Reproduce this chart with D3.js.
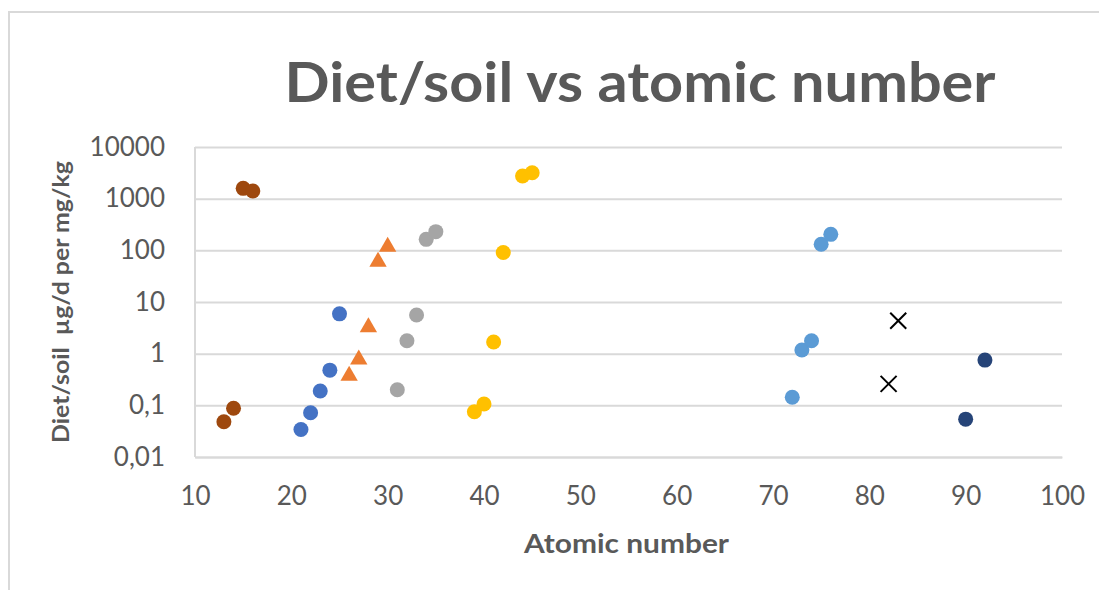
<!DOCTYPE html>
<html>
<head>
<meta charset="utf-8">
<script src="https://cdn.jsdelivr.net/npm/d3@7"></script>
<style>
  html, body { margin: 0; padding: 0; background: #ffffff; }
  svg { display: block; }
  text { font-family: Lato, "Open Sans", sans-serif; fill: #595959; }
</style>
</head>
<body>
<svg id="chart" width="1099" height="590"></svg>
<script>
// Axis ticks
const xTickValues = [10, 20, 30, 40, 50, 60, 70, 80, 90, 100];
const yTickValues = [0.01, 0.1, 1, 10, 100, 1000, 10000];
const yTickLabels = ["0,01", "0,1", "1", "10", "100", "1000", "10000"];

// Element groups: atomic number and diet/soil ratio
const groupAZ = [13, 14, 15, 16];
const groupAV = [0.048, 0.088, 1585, 1407];
const groupBZ = [21, 22, 23, 24, 25];
const groupBV = [0.034, 0.072, 0.19, 0.48, 5.9];
const groupCZ = [26, 27, 28, 29, 30];
const groupCV = [0.39, 0.81, 3.4, 63, 123];
const groupDZ = [31, 32, 33, 34, 35];
const groupDV = [0.2, 1.78, 5.6, 163, 230];
const groupEZ = [39, 40, 41, 42, 44, 45];
const groupEV = [0.075, 0.106, 1.68, 91, 2740, 3180];
const groupFZ = [72, 73, 74, 75, 76];
const groupFV = [0.143, 1.18, 1.78, 131, 204];
const groupGZ = [82, 83];
const groupGV = [0.26, 4.35];
const groupHZ = [90, 92];
const groupHV = [0.054, 0.75];

const series = [
  { z: groupAZ, v: groupAV, shape: "circle", color: "#9e480e" },
  { z: groupBZ, v: groupBV, shape: "circle", color: "#4472c4" },
  { z: groupCZ, v: groupCV, shape: "triangle", color: "#ed7d31" },
  { z: groupDZ, v: groupDV, shape: "circle", color: "#a5a5a5" },
  { z: groupEZ, v: groupEV, shape: "circle", color: "#ffc000" },
  { z: groupFZ, v: groupFV, shape: "circle", color: "#5b9bd5" },
  { z: groupGZ, v: groupGV, shape: "cross", color: "#000000" },
  { z: groupHZ, v: groupHV, shape: "circle", color: "#264478" }
];

const svg = d3.select("#chart");
const plot = { left: 195, right: 1062, top: 147, bottom: 457 };

// Outer chart frame
svg.append("rect")
  .attr("x", 9).attr("y", 12)
  .attr("width", 1200).attr("height", 700)
  .attr("fill", "none").attr("stroke", "#d9d9d9").attr("stroke-width", 2);

const x = d3.scaleLinear().domain([10, 100]).range([plot.left, plot.right]);
const y = d3.scaleLog().domain([0.01, 10000]).range([plot.bottom, plot.top]);

// Horizontal gridlines and y tick labels
const yAxis = svg.append("g")
  .attr("transform", `translate(${plot.left},0)`)
  .call(d3.axisLeft(y)
    .tickValues(yTickValues)
    .tickFormat((d, i) => yTickLabels[i])
    .tickSize(-(plot.right - plot.left))
    .tickPadding(30));
yAxis.select(".domain").remove();
yAxis.selectAll(".tick line").attr("stroke", "#d9d9d9").attr("stroke-width", 2);
yAxis.selectAll(".tick text")
  .attr("font-size", 26).attr("fill", "#595959")
  .style("font-family", "Lato, sans-serif");

// Left axis line
svg.append("line")
  .attr("x1", plot.left).attr("x2", plot.left)
  .attr("y1", plot.top).attr("y2", plot.bottom)
  .attr("stroke", "#d9d9d9").attr("stroke-width", 2);

// Bottom axis with labels
const xAxis = svg.append("g")
  .attr("transform", `translate(0,${plot.bottom})`)
  .call(d3.axisBottom(x).tickValues(xTickValues).tickFormat(d3.format("d")).tickSize(0).tickPadding(30));
xAxis.select(".domain").attr("stroke", "#d9d9d9").attr("stroke-width", 2);
xAxis.selectAll(".tick text")
  .attr("font-size", 26).attr("fill", "#595959")
  .style("font-family", "Lato, sans-serif");

// Markers
const triangle = d3.symbol().type(d3.symbolTriangle).size(130);
series.forEach(s => {
  const pts = s.z.map((z, i) => ({ z, v: s.v[i] }));
  const g = svg.append("g");
  if (s.shape === "circle") {
    g.selectAll("circle").data(pts).join("circle")
      .attr("cx", d => x(d.z)).attr("cy", d => y(d.v))
      .attr("r", 7.5).attr("fill", s.color);
  } else if (s.shape === "triangle") {
    g.selectAll("path").data(pts).join("path")
      .attr("d", triangle)
      .attr("transform", d => `translate(${x(d.z)},${y(d.v) + 1})`)
      .attr("fill", s.color);
  } else {
    const h = 8;
    g.selectAll("path").data(pts).join("path")
      .attr("d", d => {
        const cx = x(d.z), cy = y(d.v);
        return `M${cx - h},${cy - h}L${cx + h},${cy + h}M${cx - h},${cy + h}L${cx + h},${cy - h}`;
      })
      .attr("stroke", s.color).attr("stroke-width", 2).attr("fill", "none");
  }
});

// Titles
svg.append("text")
  .attr("x", 640).attr("y", 102)
  .attr("text-anchor", "middle")
  .attr("font-size", 55).attr("font-weight", "bold")
  .attr("textLength", 711).attr("lengthAdjust", "spacingAndGlyphs")
  .text("Diet/soil vs atomic number");

svg.append("text")
  .attr("x", (plot.left + plot.right) / 2 - 2).attr("y", 553)
  .attr("text-anchor", "middle")
  .attr("font-size", 27).attr("font-weight", "bold")
  .attr("textLength", 205).attr("lengthAdjust", "spacingAndGlyphs")
  .text("Atomic number");

svg.append("text")
  .attr("transform", `translate(69,${(plot.top + plot.bottom) / 2}) rotate(-90)`)
  .attr("text-anchor", "middle")
  .attr("font-size", 23).attr("font-weight", "bold")
  .attr("textLength", 282).attr("lengthAdjust", "spacingAndGlyphs")
  .style("white-space", "pre")
  .text("Diet/soil  \u00b5g/d per mg/kg");
</script>
</body>
</html>
